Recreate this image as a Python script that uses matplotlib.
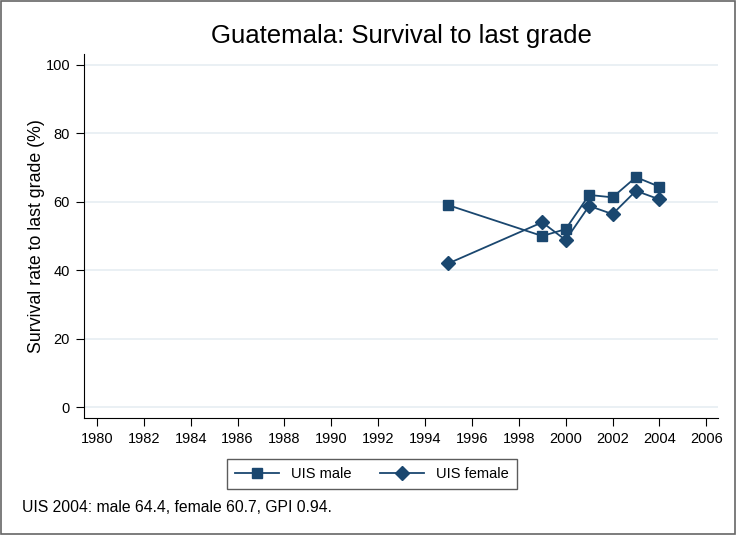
import matplotlib
matplotlib.use("Agg")
import matplotlib.pyplot as plt
from matplotlib.patches import Rectangle

plt.rcParams['font.family'] = ['Liberation Sans', 'DejaVu Sans']

# data
years_male = [1995, 1999, 2000, 2001, 2002, 2003, 2004]
male = [59.0, 50.0, 52.0, 62.0, 61.3, 67.2, 64.4]
years_female = [1995, 1999, 2000, 2001, 2002, 2003, 2004]
female = [42.0, 54.0, 48.8, 58.8, 56.4, 63.2, 60.7]
xticks = list(range(1980, 2007, 2))
yticks = [0, 20, 40, 60, 80, 100]

navy = '#1a476f'

fig = plt.figure(figsize=(7.36, 5.35), dpi=100)
ax = fig.add_axes([84/736, 1-418/535, (718-84)/736, (418-54)/535])

ax.plot(years_male, male, color=navy, marker='s', markersize=7, lw=1.3, label='UIS male')
ax.plot(years_female, female, color=navy, marker='D', markersize=7, lw=1.3, label='UIS female')

ax.set_xlim(1979.45, 2006.5)
ax.set_ylim(-3.2, 103.2)
ax.set_xticks(xticks)
ax.set_yticks(yticks)
ax.tick_params(labelsize=10.5, length=6, color='black', pad=4)
ax.yaxis.grid(True, color='#e6edf2', lw=1.2)
ax.set_axisbelow(True)
for s in ['top', 'right']:
    ax.spines[s].set_visible(False)
ax.set_ylabel('Survival rate to last grade (%)', fontsize=12.8, labelpad=0)
ax.set_title('Guatemala: Survival to last grade', fontsize=18.5, pad=8)

leg = fig.legend(loc='center', bbox_to_anchor=(372/736, 1-474/535), ncol=2, frameon=True,
                 fancybox=False, edgecolor='#333333', fontsize=10.5, handlelength=3,
                 columnspacing=2.0, borderpad=0.55)
leg.get_frame().set_linewidth(1)

fig.text(22/736, 1-508/535, 'UIS 2004: male 64.4, female 60.7, GPI 0.94.', fontsize=11.3, va='center')

fig.patches.append(Rectangle((0.002, 0.002), 0.996, 0.996, transform=fig.transFigure,
                             fill=False, edgecolor='#666666', lw=1.2))

fig.savefig('out.png', dpi=100)
